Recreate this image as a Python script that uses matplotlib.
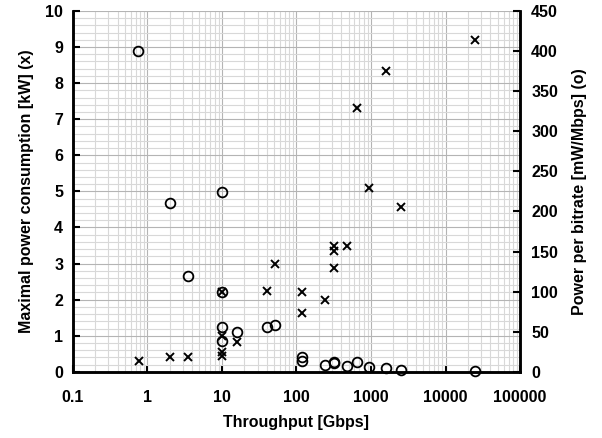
import matplotlib
matplotlib.use('Agg')
import matplotlib.pyplot as plt
from matplotlib.ticker import FixedLocator, LogLocator, MultipleLocator, NullFormatter

plt.rcParams['font.family'] = ['Liberation Sans', 'DejaVu Sans']
plt.rcParams['font.weight'] = 'bold'
plt.rcParams['font.size'] = 11

# maximal power consumption [kW] (x markers, left axis)
power_tp = [0.76, 2, 3.5, 10, 10, 10, 10, 16, 40, 52, 120, 120, 240, 320, 320, 320, 480, 640, 950, 1600, 2500, 25000]
power_kw = [0.31, 0.41, 0.41, 2.2, 1.0, 0.55, 0.43, 0.82, 2.23, 3.0, 2.2, 1.63, 2.0, 3.5, 3.35, 2.88, 3.5, 7.3, 5.1, 8.35, 4.57, 9.2]

# power per bitrate [mW/Mbps] (o markers, right axis)
eff_tp = [0.75, 2, 3.5, 10, 10, 10, 10, 16, 40, 52, 120, 120, 240, 320, 320, 470, 640, 950, 1600, 2500, 25000]
eff_mw = [400, 210, 120, 224, 99, 56, 39, 50, 56, 59, 18, 14, 9, 11, 12, 7.7, 12, 5.6, 4.9, 1.9, 0.6]

xticks = [0.1, 1, 10, 100, 1000, 10000, 100000]
xtick_labels = ['0.1', '1', '10', '100', '1000', '10000', '100000']

fig = plt.figure(figsize=(6.02, 4.38), dpi=100)
ax = fig.add_axes([0.121, 0.151, 0.743, 0.824])
ax2 = ax.twinx()

ax.set_xscale('log')
ax.set_xlim(0.1, 100000)
ax.set_ylim(0, 10)
ax2.set_ylim(0, 450)

ax.xaxis.set_major_locator(FixedLocator(xticks))
ax.set_xticklabels(xtick_labels)
ax.xaxis.set_minor_locator(LogLocator(base=10, subs=range(2, 10), numticks=20))
ax.xaxis.set_minor_formatter(NullFormatter())
ax.yaxis.set_major_locator(MultipleLocator(1))
ax.yaxis.set_minor_locator(MultipleLocator(0.2))
ax2.yaxis.set_major_locator(MultipleLocator(50))

ax.grid(which='major', color='#b4b4b4', linewidth=0.8)
ax.grid(which='minor', color='#d8d8d8', linewidth=0.8)
ax.set_axisbelow(True)

ax.tick_params(which='major', direction='in', length=5, width=1.5, labelsize=11.5, pad=7)
ax.tick_params(which='minor', length=0)
ax.tick_params(axis='x', pad=13)
ax2.tick_params(direction='in', length=5, width=1.5, labelsize=11.5, pad=8)

for a in (ax, ax2):
    a.spines['top'].set_visible(False)
    for s in ('left', 'right', 'bottom'):
        a.spines[s].set_linewidth(1.8)

ax.plot(power_tp, power_kw, linestyle='none', marker='x', color='black',
        markersize=5.5, markeredgewidth=1.4, clip_on=False)
ax2.plot(eff_tp, eff_mw, linestyle='none', marker='o', markerfacecolor='none',
         markeredgecolor='black', markersize=7, markeredgewidth=1.3, clip_on=False)

ax.set_xlabel('Throughput [Gbps]', fontweight='bold', fontsize=11.5, labelpad=7)
ax.set_ylabel('Maximal power consumption [kW] (x)', fontweight='bold', fontsize=11.5, labelpad=8)
ax2.set_ylabel('Power per bitrate [mW/Mbps] (o)', fontweight='bold', fontsize=11.5, labelpad=10)

fig.savefig('out.png', dpi=100)
